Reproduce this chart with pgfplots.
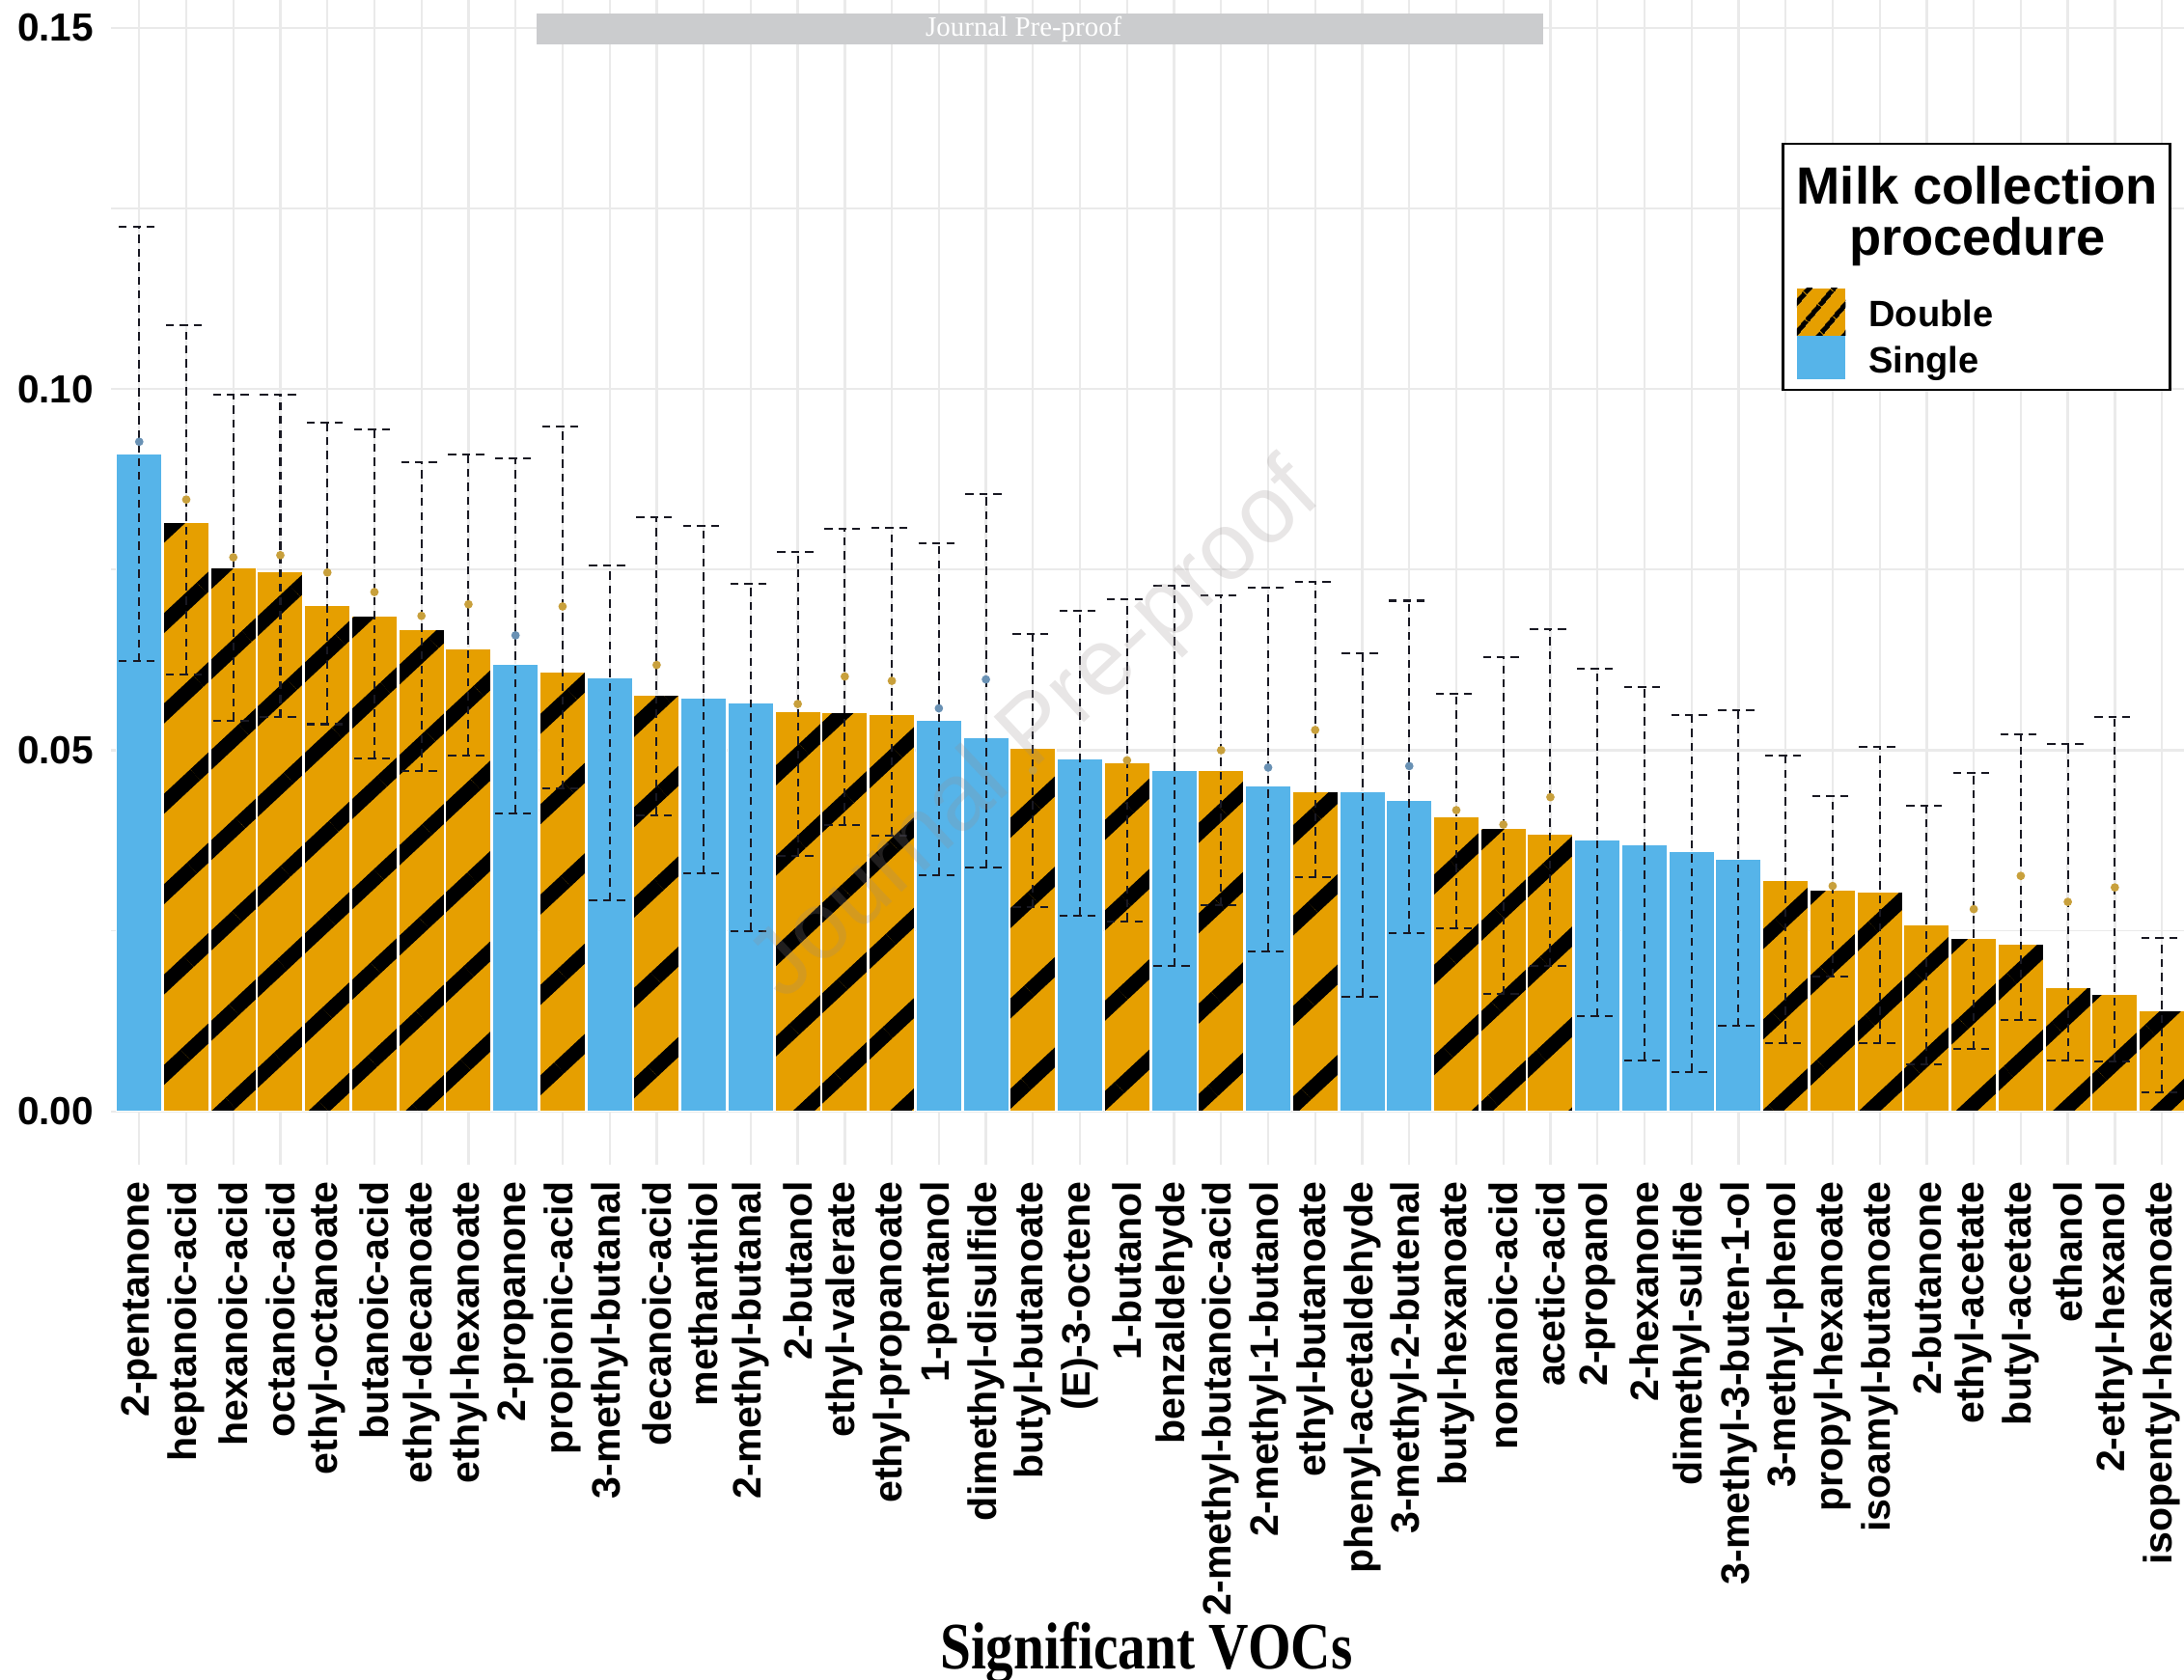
\documentclass[border=0pt]{standalone}
\usepackage{pgfplots}
\pgfplotsset{compat=1.18}
\usepackage{pgfplotstable}
\usepackage{graphicx}
\usepackage{fontspec}
\setmainfont{Liberation Sans}
\newfontfamily\serifx{Liberation Serif}
\usetikzlibrary{patterns.meta}

\definecolor{sblue}{RGB}{86,180,233}
\definecolor{dorange}{RGB}{230,159,0}
\definecolor{gridc}{RGB}{234,234,234}
\definecolor{dotS}{RGB}{105,145,180}
\definecolor{dotD}{RGB}{200,160,60}
\definecolor{wmbar}{RGB}{203,204,206}
\definecolor{errc}{RGB}{25,25,35}
\definecolor{wmtext}{RGB}{150,140,140}

% Single collection: mean, lower and upper end of the interval
\pgfplotstableread{
x mean lo hi
0 0.0910 0.0623 0.1225
8 0.0619 0.0413 0.0904
10 0.0600 0.0292 0.0756
12 0.0572 0.0329 0.0811
13 0.0566 0.0250 0.0731
17 0.0542 0.0327 0.0787
18 0.0518 0.0337 0.0854
20 0.0488 0.0271 0.0693
22 0.0472 0.0201 0.0728
24 0.0450 0.0222 0.0725
26 0.0442 0.0159 0.0634
27 0.0430 0.0247 0.0707
31 0.0376 0.0132 0.0613
32 0.0369 0.0071 0.0588
33 0.0360 0.0055 0.0549
34 0.0349 0.0118 0.0555
}\single

% Double collection
\pgfplotstableread{
x mean lo hi
1 0.0815 0.0605 0.1088
2 0.0752 0.0541 0.0992
3 0.0747 0.0546 0.0992
4 0.0701 0.0536 0.0953
5 0.0686 0.0488 0.0944
6 0.0667 0.0471 0.0899
7 0.0641 0.0492 0.0910
9 0.0608 0.0447 0.0948
11 0.0576 0.0410 0.0823
14 0.0554 0.0353 0.0774
15 0.0552 0.0397 0.0806
16 0.0549 0.0382 0.0808
19 0.0503 0.0283 0.0661
21 0.0483 0.0263 0.0709
23 0.0472 0.0285 0.0714
25 0.0442 0.0324 0.0733
28 0.0408 0.0254 0.0578
29 0.0392 0.0162 0.0629
30 0.0384 0.0201 0.0667
35 0.0320 0.0095 0.0493
36 0.0306 0.0186 0.0437
37 0.0304 0.0095 0.0504
38 0.0258 0.0065 0.0423
39 0.0240 0.0086 0.0469
40 0.0231 0.0127 0.0522
41 0.0172 0.0071 0.0509
42 0.0162 0.0069 0.0546
43 0.0139 0.0026 0.0240
}\double

\pgfplotstableread{
x y
0 0.0927
8 0.0659
17 0.0558
18 0.0598
24 0.0476
27 0.0478
}\singledots

\pgfplotstableread{
x y
1 0.0847
2 0.0767
3 0.0770
4 0.0746
5 0.0719
6 0.0686
7 0.0702
9 0.0699
11 0.0618
14 0.0564
15 0.0602
16 0.0596
19 0.0472
21 0.0486
23 0.0500
25 0.0528
28 0.0417
29 0.0397
30 0.0435
36 0.0312
39 0.0280
40 0.0326
41 0.0290
42 0.0310
}\doubledots

\begin{document}
\begin{tikzpicture}[x=1cm,y=1cm]
\begin{axis}[
  at={(0,0)}, anchor=south west,
  scale only axis, width=14.883cm, height=8.36cm,
  xmin=-0.6, xmax=43.47, ymin=-0.00733, ymax=0.15386,
  axis line style={draw=none},
  major tick length=0pt, minor tick length=0pt,
  xtick={0,...,43},
  xticklabels={2-pentanone, heptanoic-acid, hexanoic-acid, octanoic-acid, ethyl-octanoate, butanoic-acid, ethyl-decanoate, ethyl-hexanoate, 2-propanone, propionic-acid, 3-methyl-butanal, decanoic-acid, methanthiol, 2-methyl-butanal, 2-butanol, ethyl-valerate, ethyl-propanoate, 1-pentanol, dimethyl-disulfide, butyl-butanoate, (E)-3-octene, 1-butanol, benzaldehyde, 2-methyl-butanoic-acid, 2-methyl-1-butanol, ethyl-butanoate, phenyl-acetaldehyde, 3-methyl-2-butenal, butyl-hexanoate, nonanoic-acid, acetic-acid, 2-propanol, 2-hexanone, dimethyl-sulfide, 3-methyl-3-buten-1-ol, 3-methyl-phenol, propyl-hexanoate, isoamyl-butanoate, 2-butanone, ethyl-acetate, butyl-acetate, ethanol, 2-ethyl-hexanol, isopentyl-hexanoate},
  xticklabel style={rotate=90, anchor=east, font=\bfseries\fontsize{8.1}{9}\selectfont},
  ytick={0,0.05,0.10,0.15},
  yticklabels={0.00,0.05,0.10,0.15},
  minor ytick={0.025,0.075,0.125},
  yticklabel style={font=\bfseries\fontsize{8}{9}\selectfont},
  xmajorgrids, ymajorgrids, yminorgrids,
  major grid style={gridc, line width=0.45pt},
  minor grid style={gridc, line width=0.35pt},
  xlabel={\scalebox{1}[1.2]{Significant VOCs}},
  xlabel style={at={(axis description cs:0.4994,0)}, anchor=center, yshift=-3.51cm, font=\serifx\bfseries\fontsize{11.3}{13}\selectfont},
]
\addplot[ybar, bar width=0.97, bar shift=0pt, fill=sblue, draw=white, line width=0.25pt]
  table[x=x, y=mean]{\single};
\addplot[ybar, bar width=0.97, bar shift=0pt, fill=dorange, draw=white, line width=0.25pt,
  postaction={pattern={Lines[angle=43, distance=13.5pt, line width=3pt]}, pattern color=black}]
  table[x=x, y=mean]{\double};

\addplot[draw=none, mark=none,
  error bars/.cd, y dir=both, y explicit,
  error bar style={draw=errc, line width=0.4pt, dash pattern=on 1.65pt off 1.2pt},
  error mark options={rotate=90, draw=errc, mark size=4.18pt, line width=0.4pt, dash pattern=on 1.65pt off 1.2pt}]
  table[x=x, y=lo, y error plus expr=\thisrow{hi}-\thisrow{lo}, y error minus expr=0]{\single};
\addplot[draw=none, mark=none,
  error bars/.cd, y dir=both, y explicit,
  error bar style={draw=errc, line width=0.4pt, dash pattern=on 1.65pt off 1.2pt},
  error mark options={rotate=90, draw=errc, mark size=4.18pt, line width=0.4pt, dash pattern=on 1.65pt off 1.2pt}]
  table[x=x, y=lo, y error plus expr=\thisrow{hi}-\thisrow{lo}, y error minus expr=0]{\double};

\addplot[only marks, mark=*, mark size=0.65pt, mark options={draw=dotS, fill=dotS}]
  table[x=x, y=y]{\singledots};
\addplot[only marks, mark=*, mark size=0.65pt, mark options={draw=dotD, fill=dotD}]
  table[x=x, y=y]{\doubledots};
\end{axis}

% diagonal watermark
\node[rotate=43, font=\fontsize{19.5}{22}\selectfont, text=wmtext, opacity=0.22] at (6.65,3.10) {Journal Pre-proof};

% legend
\draw[black, line width=0.45pt, fill=white] (12.003,5.56) rectangle (14.783,7.33);
\node[font=\bfseries\fontsize{10.7}{12}\selectfont, anchor=base, inner sep=0pt] at (13.398,6.895) {Milk collection};
\node[font=\bfseries\fontsize{10.7}{12}\selectfont, anchor=base, inner sep=0pt] at (13.398,6.53) {procedure};
\fill[dorange] (12.103,5.95) rectangle (12.453,6.29);
\fill[pattern={Lines[angle=50, distance=4pt, line width=1.1pt]}, pattern color=black] (12.103,5.95) rectangle (12.453,6.29);
\fill[sblue] (12.103,5.64) rectangle (12.453,5.95);
\node[font=\bfseries\fontsize{7.5}{9}\selectfont, anchor=base west, inner sep=0pt] at (12.613,6.015) {Double};
\node[font=\bfseries\fontsize{7.5}{9}\selectfont, anchor=base west, inner sep=0pt] at (12.613,5.685) {Single};

% top banner
\fill[wmbar] (3.053,8.04) rectangle (10.283,8.26);
\node[font=\serifx\fontsize{5.7}{6}\selectfont, text=white, inner sep=0pt] at (6.553,8.15) {Journal Pre-proof};

\pgfresetboundingbox
\useasboundingbox (-0.797,-3.70) rectangle (14.883,8.36);
\end{tikzpicture}
\end{document}
